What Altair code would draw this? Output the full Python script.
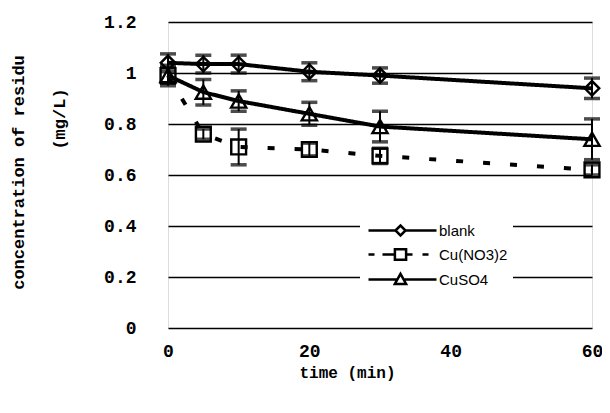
import altair as alt
import pandas as pd

# ---- data ----
time_min = [0, 5, 10, 20, 30, 60]
series_names = ["blank", "Cu(NO3)2", "CuSO4"]
blank = [1.04, 1.035, 1.035, 1.005, 0.99, 0.94]
blank_err = [0.035, 0.035, 0.035, 0.035, 0.03, 0.04]
cuno3 = [0.99, 0.76, 0.71, 0.70, 0.675, 0.62]
cuno3_err = [0.03, 0.02, 0.07, 0.025, 0.03, 0.02]
cuso4 = [0.99, 0.925, 0.89, 0.84, 0.79, 0.74]
cuso4_err = [0.04, 0.05, 0.04, 0.045, 0.06, 0.08]
y_ticks = [0, 0.2, 0.4, 0.6, 0.8, 1.0, 1.2]
x_ticks = [0, 20, 40, 60]

rows = []
for name, vals, errs in zip(series_names, [blank, cuno3, cuso4], [blank_err, cuno3_err, cuso4_err]):
    for t, v, e in zip(time_min, vals, errs):
        rows.append({"time": t, "value": v, "lo": v - e, "hi": v + e, "series": name})
df = pd.DataFrame(rows)

MONO = "Liberation Mono"
SANS = "Liberation Sans"

x_enc = alt.X(
    "time:Q",
    scale=alt.Scale(domain=[0, 60], nice=False),
    axis=alt.Axis(
        values=x_ticks, grid=False, domain=False, ticks=False, labelPadding=14,
        labelFont=MONO, labelFontWeight="bold", labelFontSize=18, labelColor="black",
        labelFlush=False, title="time (min)", titleFont=MONO, titleFontWeight="bold",
        titleFontSize=16, titleColor="black", titleX=179, titleY=44,
        titleAlign="center", titleBaseline="middle",
    ),
)
y_scale = alt.Scale(domain=[0, 1.2], nice=False)
y_enc = alt.Y(
    "value:Q",
    scale=y_scale,
    axis=alt.Axis(
        values=y_ticks, format="~g", grid=True, gridColor="black", gridWidth=1.5,
        gridOpacity=1, domain=False, ticks=False, labelPadding=32,
        labelFont=MONO, labelFontWeight="bold", labelFontSize=18, labelColor="black",
        labelFlush=False, labelOverlap=False,
        title="concentration of residu", titleFont=MONO, titleFontWeight="bold",
        titleFontSize=17, titleColor="black", titleX=-150, titleY=150,
        titleAngle=270, titleAlign="center", titleBaseline="middle",
    ),
)

dash_scale = alt.Scale(domain=series_names, range=[[1, 0], [7, 20], [1, 0]])
shape_scale = alt.Scale(domain=series_names, range=["diamond", "square", "triangle-up"])
size_scale = alt.Scale(domain=series_names, range=[210, 230, 250])

lines = alt.Chart().mark_line(color="black", strokeWidth=4).encode(
    x=x_enc, y=y_enc,
    strokeDash=alt.StrokeDash("series:N", scale=dash_scale, legend=None),
    detail="series:N",
)
rules = alt.Chart().mark_rule(color="black", strokeWidth=2).encode(
    x="time:Q", y=alt.Y("lo:Q", scale=y_scale), y2="hi:Q"
)
caps_lo = alt.Chart().mark_tick(orient="horizontal", color="black", size=16, thickness=3.5).encode(
    x="time:Q", y=alt.Y("lo:Q", scale=y_scale)
)
caps_hi = alt.Chart().mark_tick(orient="horizontal", color="black", size=16, thickness=3.5).encode(
    x="time:Q", y=alt.Y("hi:Q", scale=y_scale)
)
points = alt.Chart().mark_point(filled=False, color="black", strokeWidth=2.4, opacity=1).encode(
    x="time:Q", y=alt.Y("value:Q", scale=y_scale),
    shape=alt.Shape("series:N", scale=shape_scale, legend=None),
    size=alt.Size("series:N", scale=size_scale, legend=None),
)

# legend symbols: line segment + marker drawn as custom symbol paths
legend_paths = [
    "M-1,0L5.75,0M8.25,0L16,0M5.75,0L7,-1.25L8.25,0L7,1.25Z",
    "M-1,0L0.5,0M2.5,0L5.6,0M8.4,0L10,0M12.5,0L14,0M5.6,-1.3L8.4,-1.3L8.4,1.3L5.6,1.3Z",
    "M-1,0L6.2,0M7.8,0L16,0M5.6,1.1L7,-1.4L8.4,1.1Z",
]
legend_layer = alt.Chart().mark_point(filled=False, color="black").encode(
    x="time:Q", y=alt.Y("value:Q", scale=y_scale),
    shape=alt.Shape(
        "series:N",
        scale=alt.Scale(domain=series_names, range=legend_paths),
        legend=alt.Legend(
            title=None, orient="none", legendX=192, legendY=196,
            fillColor="white", padding=5, rowPadding=3,
            symbolSize=64, symbolStrokeColor="black", symbolStrokeWidth=2.5,
            symbolFillColor="transparent", symbolOpacity=1,
            labelFont=SANS, labelFontSize=15, labelColor="black", labelOffset=59,
        ),
    ),
).transform_filter("false")

unit_df = pd.DataFrame({"label": ["(mg/L)"]})
unit_text = alt.Chart(unit_df).mark_text(
    angle=270, font=MONO, fontWeight="bold", fontSize=17, color="black",
    align="center", baseline="middle",
).encode(x=alt.value(-108), y=alt.value(97), text="label:N")

chart = alt.layer(
    lines, rules, caps_lo, caps_hi, points, legend_layer, unit_text, data=df
).resolve_scale(shape="independent").properties(
    width=424, height=306,
    autosize=alt.AutoSizeParams(type="none"),
    padding={"left": 160, "top": 14, "right": 10, "bottom": 70},
).configure_view(stroke="black", strokeWidth=2).configure(background="white")

chart.save("out.html", embed_options={"renderer": "svg", "actions": False})
